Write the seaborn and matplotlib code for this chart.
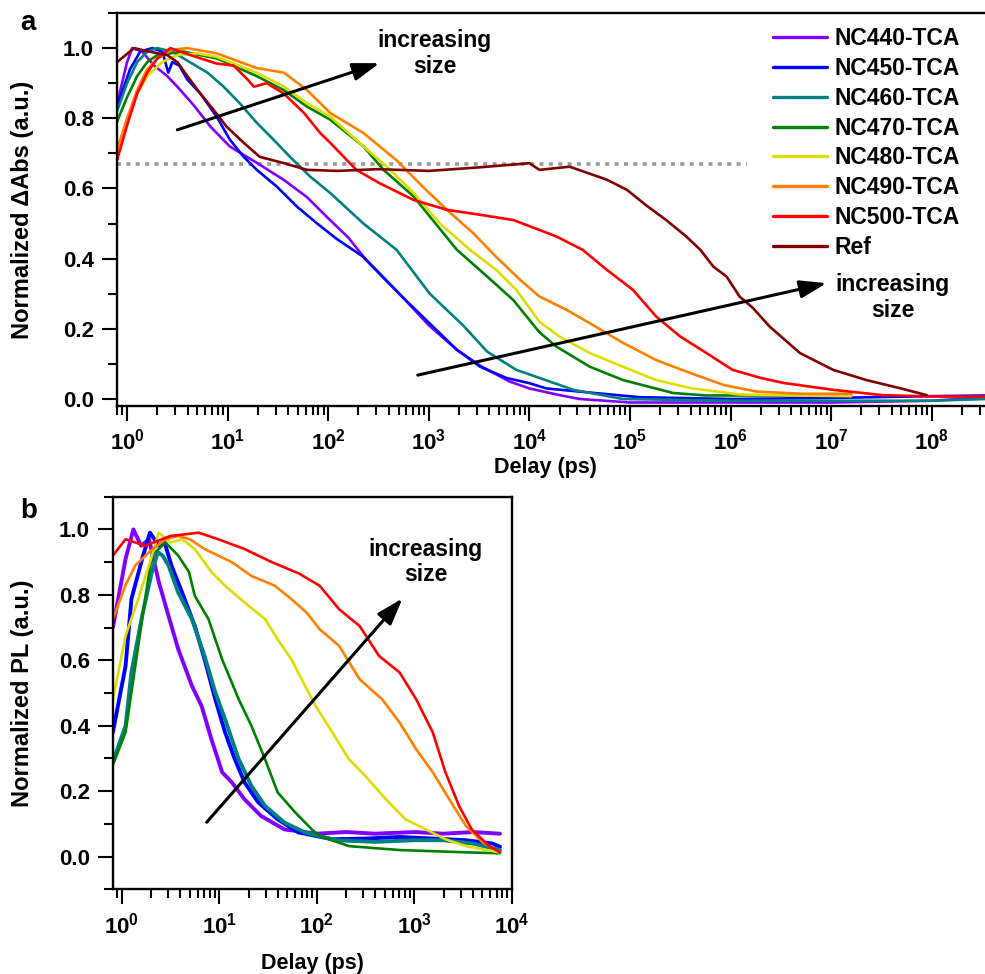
import matplotlib
matplotlib.use("Agg")
import matplotlib.pyplot as plt
from matplotlib.lines import Line2D
from matplotlib.ticker import (FixedLocator, FuncFormatter, MultipleLocator, NullFormatter,
                               FormatStrFormatter, LogLocator)
import numpy as np
import pandas as pd
import seaborn as sns

# ---------------- data ----------------
names = ["NC440-TCA", "NC450-TCA", "NC460-TCA", "NC470-TCA",
         "NC480-TCA", "NC490-TCA", "NC500-TCA", "Ref"]
colors = ["#8000FF", "#0000FF", "#008080", "#008000",
          "#DDDD00", "#FF8000", "#FF0000", "#800000"]

# panel a : log10(delay / ps) and normalized dAbs
a_lt_440 = [-0.1, 0.0, 0.05, 0.15, 0.27, 0.4, 0.5, 0.66, 0.83, 1.02, 1.29, 1.56, 1.79, 2.0, 2.2,
            2.38, 2.55, 2.74, 3.0, 3.28, 3.51, 3.8, 4.0, 4.3, 4.5, 5.0, 6.0, 7.0, 8.0, 8.55]
a_y_440 = [0.84, 0.96, 1.0, 0.99, 0.95, 0.92, 0.89, 0.838, 0.776, 0.72, 0.673, 0.624, 0.575, 0.515, 0.46,
           0.395, 0.345, 0.29, 0.21, 0.14, 0.095, 0.05, 0.03, 0.011, 0.0, -0.01, -0.01, -0.01, -0.005, 0.005]

a_lt_450 = [-0.1, 0.03, 0.13, 0.25, 0.35, 0.41, 0.45, 0.52, 0.6, 0.73, 0.89, 1.02, 1.16, 1.29, 1.49,
            1.69, 1.89, 2.09, 2.35, 2.51, 2.74, 3.01, 3.28, 3.51, 3.77, 4.0, 4.17, 4.5, 5.1, 6.0,
            7.0, 8.0, 8.55]
a_y_450 = [0.833, 0.94, 0.99, 1.0, 0.99, 0.93, 0.96, 0.95, 0.91, 0.87, 0.805, 0.74, 0.69, 0.653, 0.605,
           0.548, 0.5, 0.455, 0.405, 0.358, 0.29, 0.215, 0.14, 0.092, 0.06, 0.045, 0.03, 0.021, 0.005, 0.0,
           0.003, 0.008, 0.01]

a_lt_460 = [-0.1, 0.0, 0.1, 0.2, 0.3, 0.45, 0.6, 0.8, 0.96, 1.12, 1.29, 1.46, 1.62, 1.82, 2.02,
            2.35, 2.68, 3.01, 3.34, 3.58, 3.87, 4.1, 4.44, 4.93, 6.0, 7.0, 8.0, 8.55]
a_y_460 = [0.82, 0.9, 0.96, 0.99, 1.0, 0.99, 0.964, 0.93, 0.89, 0.843, 0.787, 0.738, 0.69, 0.634, 0.587,
           0.5, 0.425, 0.30, 0.21, 0.135, 0.083, 0.06, 0.026, 0.0, -0.005, -0.005, -0.005, 0.0]

a_lt_470 = [-0.1, 0.0, 0.1, 0.2, 0.3, 0.56, 0.9, 1.29, 1.56, 1.79, 2.02, 2.35, 2.55, 2.85, 3.01,
            3.28, 3.58, 3.84, 4.1, 4.27, 4.6, 4.93, 5.43, 5.76, 6.5, 7.2]
a_y_470 = [0.79, 0.86, 0.92, 0.96, 0.98, 0.99, 0.97, 0.92, 0.88, 0.833, 0.796, 0.72, 0.653, 0.577, 0.52,
           0.425, 0.349, 0.282, 0.19, 0.149, 0.092, 0.054, 0.017, 0.01, 0.01, 0.01]

a_lt_480 = [-0.1, 0.0, 0.1, 0.2, 0.35, 0.5, 0.7, 0.89, 1.29, 1.56, 1.79, 2.02, 2.35, 2.58, 2.85,
            3.11, 3.41, 3.67, 3.87, 4.1, 4.3, 4.6, 4.93, 5.26, 5.6, 6.09, 6.6, 7.2]
a_y_480 = [0.70, 0.79, 0.87, 0.92, 0.96, 0.98, 0.985, 0.975, 0.93, 0.89, 0.843, 0.805, 0.72, 0.663, 0.587,
           0.5, 0.425, 0.368, 0.311, 0.22, 0.178, 0.131, 0.092, 0.054, 0.031, 0.013, 0.01, 0.008]

a_lt_490 = [-0.1, 0.0, 0.1, 0.2, 0.3, 0.45, 0.6, 0.89, 1.29, 1.56, 1.79, 2.02, 2.35, 2.68, 2.94,
            3.18, 3.44, 3.67, 3.91, 4.1, 4.37, 4.6, 4.93, 5.26, 5.6, 5.93, 6.26, 6.7, 7.2]
a_y_490 = [0.71, 0.80, 0.88, 0.94, 0.97, 0.995, 1.0, 0.985, 0.943, 0.93, 0.88, 0.815, 0.758, 0.68, 0.605,
           0.539, 0.473, 0.405, 0.339, 0.292, 0.254, 0.216, 0.16, 0.111, 0.074, 0.04, 0.021, 0.015, 0.015]

a_lt_500 = [-0.1, 0.0, 0.1, 0.2, 0.3, 0.43, 0.63, 0.89, 1.06, 1.2, 1.26, 1.39, 1.56, 1.76, 1.92,
            2.02, 2.28, 2.51, 2.85, 3.18, 3.51, 3.84, 4.07, 4.27, 4.53, 4.77, 5.03, 5.26, 5.5, 5.76,
            6.02, 6.3, 6.52, 7.02, 7.51, 8.01, 8.55]
a_y_500 = [0.68, 0.78, 0.87, 0.93, 0.97, 1.0, 0.98, 0.956, 0.95, 0.91, 0.89, 0.90, 0.87, 0.815, 0.758,
           0.73, 0.653, 0.615, 0.567, 0.539, 0.525, 0.51, 0.485, 0.463, 0.425, 0.368, 0.311, 0.235, 0.178, 0.131,
           0.083, 0.06, 0.046, 0.026, 0.011, 0.007, 0.007]

a_lt_ref = [-0.1, 0.07, 0.22, 0.4, 0.5, 0.6, 0.73, 0.86, 0.99, 1.16, 1.32, 1.56, 1.79, 2.09, 2.5,
            3.0, 3.5, 4.0, 4.1, 4.4, 4.77, 4.97, 5.17, 5.36, 5.56, 5.7, 5.83, 5.96, 6.09, 6.22,
            6.39, 6.69, 7.02, 7.35, 7.68, 7.95]
a_y_ref = [0.96, 1.0, 0.99, 0.98, 0.96, 0.92, 0.87, 0.824, 0.776, 0.73, 0.69, 0.672, 0.653, 0.65, 0.655,
           0.65, 0.66, 0.672, 0.653, 0.662, 0.625, 0.596, 0.55, 0.51, 0.463, 0.425, 0.377, 0.349, 0.292, 0.26,
           0.206, 0.131, 0.083, 0.054, 0.031, 0.011]

# panel b : log10(delay / ps) and normalized PL
b_lt_440 = [-0.09, 0.04, 0.12, 0.2, 0.28, 0.38, 0.48, 0.58, 0.72, 0.82, 0.92, 1.03, 1.13, 1.26, 1.43,
            1.67, 2.0, 2.3, 2.6, 3.0, 3.3, 3.6, 3.88]
b_y_440 = [0.70, 0.91, 1.0, 0.95, 0.97, 0.84, 0.736, 0.634, 0.522, 0.46, 0.359, 0.258, 0.227, 0.175, 0.124,
           0.083, 0.07, 0.075, 0.07, 0.075, 0.07, 0.075, 0.07]

b_lt_450 = [-0.09, 0.04, 0.1, 0.21, 0.29, 0.38, 0.44, 0.51, 0.62, 0.75, 0.85, 0.96, 1.06, 1.16, 1.26,
            1.4, 1.6, 1.81, 2.16, 2.5, 2.85, 3.2, 3.53, 3.8, 3.88]
b_y_450 = [0.38, 0.583, 0.787, 0.91, 0.99, 0.95, 0.96, 0.89, 0.807, 0.705, 0.603, 0.481, 0.38, 0.298, 0.227,
           0.166, 0.114, 0.074, 0.053, 0.055, 0.06, 0.055, 0.05, 0.04, 0.03]

b_lt_460 = [-0.09, 0.04, 0.1, 0.21, 0.31, 0.37, 0.42, 0.48, 0.58, 0.72, 0.85, 0.96, 1.06, 1.2, 1.33,
            1.47, 1.67, 1.88, 2.2, 2.6, 3.0, 3.3, 3.6, 3.88]
b_y_460 = [0.29, 0.40, 0.563, 0.736, 0.87, 0.93, 0.92, 0.89, 0.807, 0.726, 0.613, 0.502, 0.42, 0.298, 0.216,
           0.155, 0.104, 0.074, 0.05, 0.045, 0.05, 0.05, 0.04, 0.02]

b_lt_470 = [-0.09, 0.04, 0.14, 0.24, 0.31, 0.45, 0.58, 0.69, 0.75, 0.89, 1.03, 1.2, 1.33, 1.47, 1.6,
            1.78, 1.95, 2.03, 2.33, 2.85, 3.53, 3.88]
b_y_470 = [0.28, 0.38, 0.583, 0.787, 0.92, 0.96, 0.92, 0.87, 0.797, 0.726, 0.603, 0.481, 0.4, 0.298, 0.196,
           0.135, 0.083, 0.063, 0.032, 0.02, 0.013, 0.01]

b_lt_480 = [-0.09, 0.04, 0.17, 0.28, 0.38, 0.5, 0.62, 0.75, 0.92, 1.06, 1.26, 1.47, 1.6, 1.74, 1.88,
            1.99, 2.16, 2.33, 2.5, 2.71, 2.91, 3.12, 3.32, 3.53, 3.8, 3.88]
b_y_480 = [0.48, 0.675, 0.787, 0.89, 0.99, 0.96, 0.97, 0.94, 0.87, 0.828, 0.777, 0.726, 0.664, 0.603, 0.522,
           0.46, 0.38, 0.298, 0.246, 0.175, 0.114, 0.083, 0.053, 0.032, 0.017, 0.013]

b_lt_490 = [-0.09, 0.04, 0.14, 0.28, 0.45, 0.58, 0.7, 0.85, 1.13, 1.33, 1.57, 1.74, 1.9, 2.03, 2.23,
            2.44, 2.67, 2.85, 3.02, 3.19, 3.36, 3.53, 3.7, 3.88]
b_y_490 = [0.726, 0.83, 0.89, 0.93, 0.97, 0.98, 0.97, 0.94, 0.9, 0.858, 0.828, 0.787, 0.745, 0.695, 0.644,
           0.542, 0.481, 0.41, 0.328, 0.258, 0.175, 0.094, 0.044, 0.013]

b_lt_500 = [-0.09, 0.04, 0.24, 0.5, 0.79, 0.99, 1.26, 1.54, 1.82, 2.03, 2.23, 2.44, 2.64, 2.85, 3.02,
            3.19, 3.32, 3.46, 3.59, 3.77, 3.88]
b_y_500 = [0.92, 0.97, 0.95, 0.98, 0.99, 0.97, 0.94, 0.9, 0.865, 0.828, 0.756, 0.705, 0.613, 0.563, 0.481,
           0.38, 0.258, 0.155, 0.083, 0.032, 0.013]

# dotted reference level in panel a
ref_level = 0.67
ref_level_span = (0.79, 1.45e6)

# major tick decades
a_decades = [0, 1, 2, 3, 4, 5, 6, 7, 8]
b_decades = [0, 1, 2, 3, 4]

a_series = [(a_lt_440, a_y_440), (a_lt_450, a_y_450), (a_lt_460, a_y_460), (a_lt_470, a_y_470),
            (a_lt_480, a_y_480), (a_lt_490, a_y_490), (a_lt_500, a_y_500), (a_lt_ref, a_y_ref)]
b_series = [(b_lt_440, b_y_440), (b_lt_450, b_y_450), (b_lt_460, b_y_460), (b_lt_470, b_y_470),
            (b_lt_480, b_y_480), (b_lt_490, b_y_490), (b_lt_500, b_y_500)]


def to_frame(series, labels):
    rows = []
    for lab, (lt, yv) in zip(labels, series):
        for t, v in zip(lt, yv):
            rows.append((lab, 10.0 ** t, v))
    return pd.DataFrame(rows, columns=["sample", "delay", "signal"])


df_a = to_frame(a_series, names)
df_b = to_frame(b_series, names[:7])
palette = dict(zip(names, colors))

# ---------------- style ----------------
sns.set_style("ticks")
plt.rcParams["font.family"] = ["Liberation Sans", "DejaVu Sans"]
plt.rcParams["font.weight"] = "bold"
plt.rcParams["axes.labelweight"] = "bold"
plt.rcParams["mathtext.fontset"] = "custom"
plt.rcParams["mathtext.rm"] = "Liberation Sans:bold"
plt.rcParams["mathtext.it"] = "Liberation Sans:bold"
plt.rcParams["mathtext.bf"] = "Liberation Sans:bold"
for key in ("text.color", "axes.labelcolor", "axes.edgecolor", "xtick.color", "ytick.color"):
    plt.rcParams[key] = "black"

W, H = 985, 974
fig = plt.figure(figsize=(W / 100, H / 100), dpi=100)
ax_a = fig.add_axes([117 / W, 1 - 406 / H, 868 / W, 393 / H])
ax_b = fig.add_axes([112.7 / W, 1 - 889.3 / H, 399 / W, 392.6 / H])

for ax in (ax_a, ax_b):
    ax.set_xscale("log")

sns.lineplot(data=df_a, x="delay", y="signal", hue="sample", hue_order=names, palette=palette,
             estimator=None, sort=False, linewidth=1.9, ax=ax_a, legend=False)
sns.lineplot(data=df_b, x="delay", y="signal", hue="sample", hue_order=names[:7], palette=palette,
             estimator=None, sort=False, linewidth=1.9, ax=ax_b, legend=False)
# the three fastest PL traces are very noisy in the original: draw them as wider bands
for ln in ax_b.get_lines()[:3]:
    ln.set_linewidth(2.8)

ax_a.hlines(ref_level, ref_level_span[0], ref_level_span[1], colors="#9a9a9a", linewidth=2.6,
            linestyles=(0, (1.1, 1.5)), zorder=1)

ax_a.set_xlim(10 ** -0.1, 10 ** 8.53)
ax_a.set_ylim(-0.02, 1.10)
ax_b.set_xlim(10 ** -0.092, 10 ** 4.0)
ax_b.set_ylim(-0.1, 1.1)

fmt = FuncFormatter(lambda v, p: r"$10^{%d}$" % int(round(np.log10(v))))
for ax, dec in ((ax_a, a_decades), (ax_b, b_decades)):
    ax.xaxis.set_major_locator(FixedLocator([10.0 ** d for d in dec]))
    ax.xaxis.set_minor_locator(LogLocator(base=10, subs=np.arange(2, 10), numticks=20))
    ax.xaxis.set_major_formatter(fmt)
    ax.xaxis.set_minor_formatter(NullFormatter())
    ax.yaxis.set_major_locator(MultipleLocator(0.2))
    ax.yaxis.set_minor_locator(MultipleLocator(0.1))
    ax.yaxis.set_major_formatter(FormatStrFormatter("%.1f"))
    ax.tick_params(which="major", direction="out", length=10.5, width=1.5, labelsize=16, pad=6,
                   top=False, right=False)
    ax.tick_params(which="minor", direction="out", length=6.5, width=1.5, top=False, right=False)
    for s in ax.spines.values():
        s.set_linewidth(1.7)
        s.set_color("black")
    ax.set_xlabel("Delay (ps)", fontsize=15.5, fontweight="bold")

ax_a.spines["right"].set_visible(False)

ax_a.set_ylabel("Normalized \u0394Abs (a.u.)", fontsize=17, fontweight="bold")
ax_b.set_ylabel("Normalized PL (a.u.)", fontsize=17, fontweight="bold")
ax_a.yaxis.set_label_coords((34 - 117) / 868, 0.5)
ax_b.yaxis.set_label_coords((34 - 112.7) / 399, 0.5)
ax_a.xaxis.set_label_coords((545 - 117) / 868, (406 - 457) / 393)
ax_b.xaxis.set_label_coords(0.5, (889.3 - 953) / 392.6)

# legend
handles = [Line2D([], [], color=c, lw=2.4) for c in colors]
ax_a.legend(handles, names, loc="upper left", bbox_to_anchor=(773 / W, 1 - 27 / H),
            bbox_transform=fig.transFigure, frameon=False, fontsize=16.5, handlelength=2.35,
            handletextpad=0.35, labelspacing=0.3, borderpad=0, borderaxespad=0)

# arrows and annotations
arrow_kw = dict(arrowstyle="-|>,head_length=0.9,head_width=0.3", color="black", lw=2.2,
                shrinkA=0, shrinkB=0, mutation_scale=18)
ax_a.annotate("", xy=(10 ** 2.51, 0.957), xytext=(10 ** 0.5, 0.767), arrowprops=arrow_kw)
ax_a.text(10 ** 3.06, 0.984, "increasing\nsize", ha="center", va="center", fontsize=16.5,
          fontweight="bold", linespacing=1.15)
ax_a.annotate("", xy=(10 ** 6.955, 0.33), xytext=(10 ** 2.89, 0.068), arrowprops=arrow_kw)
ax_a.text(10 ** 7.61, 0.29, "increasing\nsize", ha="center", va="center", fontsize=16.5,
          fontweight="bold", linespacing=1.15)
ax_b.annotate("", xy=(10 ** 2.88, 0.789), xytext=(10 ** 0.872, 0.105), arrowprops=arrow_kw)
ax_b.text(10 ** 3.12, 0.90, "increasing\nsize", ha="center", va="center", fontsize=16.5,
          fontweight="bold", linespacing=1.15)

fig.text(20 / W, 1 - 30 / H, "a", fontsize=20, fontweight="bold", va="baseline", ha="left")
fig.text(20 / W, 1 - 518 / H, "b", fontsize=20, fontweight="bold", va="baseline", ha="left")

fig.savefig("out.png", dpi=100)
